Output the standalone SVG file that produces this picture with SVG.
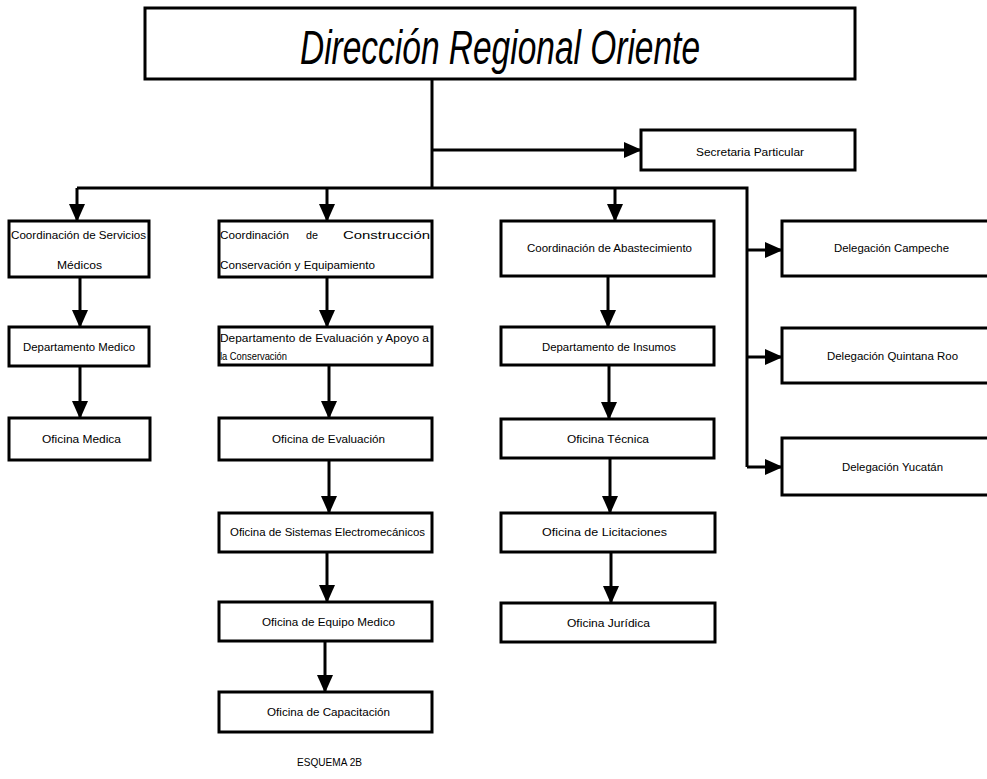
<svg xmlns="http://www.w3.org/2000/svg" width="987" height="779" viewBox="0 0 987 779">
<style>
.box{fill:#fff;stroke:#000;stroke-width:3}
.t{font-family:"Liberation Sans",Arial,sans-serif;font-size:11px;fill:#000}
.title{font-family:"Liberation Sans",Arial,sans-serif;font-size:48px;font-style:italic;fill:#000}
.ln{fill:none;stroke:#000;stroke-width:3}
.ar{fill:none;stroke:#000;stroke-width:3;marker-end:url(#ah)}
</style>
<defs>
<marker id="ah" markerUnits="userSpaceOnUse" markerWidth="18" markerHeight="16" refX="17" refY="8" orient="auto" viewBox="0 0 18 16">
<path d="M0,0 L18,8 L0,16 z" fill="#000"/>
</marker>
</defs>
<rect width="987" height="779" fill="#fff"/>
<g id="connectors">
<path class="ln" d="M432,79 V188"/>
<path class="ar" d="M432,150 H641"/>
<path class="ln" d="M77,188 H747 V467"/>
<path class="ar" d="M77,188 V221"/>
<path class="ar" d="M327,188 V221"/>
<path class="ar" d="M615,188 V221"/>
<path class="ar" d="M747,250 H782"/>
<path class="ar" d="M747,357 H782"/>
<path class="ar" d="M747,467 H782"/>
<path class="ar" d="M80,277 V327"/>
<path class="ar" d="M80,366 V418"/>
<path class="ar" d="M327,277 V327"/>
<path class="ar" d="M329,365 V418"/>
<path class="ar" d="M329,460 V513"/>
<path class="ar" d="M327,552 V602"/>
<path class="ar" d="M325,641 V692"/>
<path class="ar" d="M608,276 V327"/>
<path class="ar" d="M609,365 V419"/>
<path class="ar" d="M610,458 V513"/>
<path class="ar" d="M611,552 V603"/>
</g>
<g id="direccion">
<rect class="box" x="145" y="8" width="710" height="71"/>
<text class="title" x="300" y="64" textLength="400" lengthAdjust="spacingAndGlyphs">Dirección Regional Oriente</text>
</g>
<g id="secretaria">
<rect class="box" x="641" y="130" width="214" height="40"/>
<text class="t" x="696" y="156" textLength="108" lengthAdjust="spacingAndGlyphs">Secretaria Particular</text>
</g>
<g id="coord-servicios">
<rect class="box" x="9" y="221" width="140" height="56"/>
<text class="t" x="11" y="239" textLength="135" lengthAdjust="spacingAndGlyphs">Coordinación de Servicios</text>
<text class="t" x="57" y="269" textLength="45" lengthAdjust="spacingAndGlyphs">Médicos</text>
</g>
<g id="depto-medico">
<rect class="box" x="9" y="327" width="140" height="39"/>
<text class="t" x="23" y="351" textLength="112" lengthAdjust="spacingAndGlyphs">Departamento Medico</text>
</g>
<g id="oficina-medica">
<rect class="box" x="9" y="418" width="141" height="42"/>
<text class="t" x="42" y="443" textLength="79" lengthAdjust="spacingAndGlyphs">Oficina Medica</text>
</g>
<g id="coord-construccion">
<rect class="box" x="219" y="221" width="213" height="56"/>
<text class="t" y="239"><tspan x="220" textLength="69" lengthAdjust="spacingAndGlyphs">Coordinación</tspan><tspan x="306" textLength="12" lengthAdjust="spacingAndGlyphs">de</tspan><tspan x="343" textLength="87" lengthAdjust="spacingAndGlyphs">Construcción</tspan></text>
<text class="t" x="220" y="269" textLength="155" lengthAdjust="spacingAndGlyphs">Conservación y Equipamiento</text>
</g>
<g id="depto-evaluacion">
<rect class="box" x="219" y="327" width="213" height="38"/>
<text class="t" x="220" y="342" textLength="209" lengthAdjust="spacingAndGlyphs">Departamento de Evaluación y Apoyo a</text>
<text class="t" x="220" y="360" textLength="67" lengthAdjust="spacingAndGlyphs">la Conservación</text>
</g>
<g id="oficina-evaluacion">
<rect class="box" x="219" y="418" width="213" height="42"/>
<text class="t" x="272" y="443" textLength="113" lengthAdjust="spacingAndGlyphs">Oficina de Evaluación</text>
</g>
<g id="oficina-sistemas">
<rect class="box" x="219" y="513" width="213" height="39"/>
<text class="t" x="230" y="536" textLength="195" lengthAdjust="spacingAndGlyphs">Oficina de Sistemas Electromecánicos</text>
</g>
<g id="oficina-equipo">
<rect class="box" x="219" y="602" width="213" height="39"/>
<text class="t" x="262" y="626" textLength="133" lengthAdjust="spacingAndGlyphs">Oficina de Equipo Medico</text>
</g>
<g id="oficina-capacitacion">
<rect class="box" x="219" y="692" width="213" height="40"/>
<text class="t" x="267" y="716" textLength="123" lengthAdjust="spacingAndGlyphs">Oficina de Capacitación</text>
</g>
<g id="coord-abastecimiento">
<rect class="box" x="501" y="221" width="213" height="55"/>
<text class="t" x="527" y="252" textLength="165" lengthAdjust="spacingAndGlyphs">Coordinación de Abastecimiento</text>
</g>
<g id="depto-insumos">
<rect class="box" x="501" y="327" width="213" height="38"/>
<text class="t" x="542" y="351" textLength="134" lengthAdjust="spacingAndGlyphs">Departamento de Insumos</text>
</g>
<g id="oficina-tecnica">
<rect class="box" x="501" y="419" width="213" height="39"/>
<text class="t" x="567" y="443" textLength="82" lengthAdjust="spacingAndGlyphs">Oficina Técnica</text>
</g>
<g id="oficina-licitaciones">
<rect class="box" x="501" y="513" width="214" height="39"/>
<text class="t" x="542" y="536" textLength="125" lengthAdjust="spacingAndGlyphs">Oficina de Licitaciones</text>
</g>
<g id="oficina-juridica">
<rect class="box" x="501" y="603" width="214" height="39"/>
<text class="t" x="567" y="627" textLength="83" lengthAdjust="spacingAndGlyphs">Oficina Jurídica</text>
</g>
<g id="del-campeche">
<rect class="box" x="782" y="221" width="210" height="55"/>
<text class="t" x="834" y="252" textLength="115" lengthAdjust="spacingAndGlyphs">Delegación Campeche</text>
</g>
<g id="del-quintana-roo">
<rect class="box" x="782" y="328" width="210" height="55"/>
<text class="t" x="827" y="360" textLength="131" lengthAdjust="spacingAndGlyphs">Delegación Quintana Roo</text>
</g>
<g id="del-yucatan">
<rect class="box" x="782" y="438" width="210" height="57"/>
<text class="t" x="842" y="471" textLength="101" lengthAdjust="spacingAndGlyphs">Delegación Yucatán</text>
</g>
<text class="t" x="297" y="766" textLength="65" lengthAdjust="spacingAndGlyphs">ESQUEMA 2B</text>
</svg>
